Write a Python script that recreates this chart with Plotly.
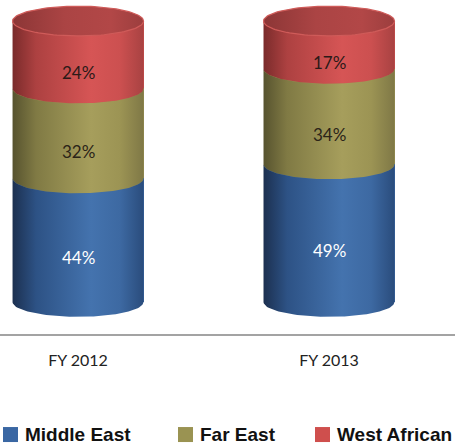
import numpy as np
import plotly.graph_objects as go

# Share of shipments by region (percent of total)
years = ["FY 2012", "FY 2013"]
regions = ["Middle East", "Far East", "West African"]
middle_east = [44, 49]
far_east = [32, 34]
west_african = [24, 17]
series_values = [middle_east, far_east, west_african]

# Flat colours (legend) and horizontal shading ramps for the cylinder bodies
flat_colors = ["#3a67a3", "#9a9352", "#cf4f4d"]
body_ramps = [
    [[0.0, "#1c3050"], [0.18, "#2d5285"], [0.6, "#4473ae"], [0.82, "#3d69a2"], [1.0, "#2a4c7c"]],
    [[0.0, "#57532f"], [0.18, "#807a44"], [0.6, "#a69e5c"], [0.82, "#9c9454"], [1.0, "#7f7846"]],
    [[0.0, "#7a2b2b"], [0.18, "#ad4141"], [0.6, "#d65555"], [0.82, "#cc5050"], [1.0, "#a84242"]],
]
cap_ramp = [[0.0, "#8c3636"], [0.4, "#ab4444"], [0.75, "#b24747"], [1.0, "#9c3e3e"]]
label_colors = ["#ffffff", "#2b2418", "#2b1a18"]

bar_width = 0.522
half_w = bar_width / 2
depth = 5.3          # half-height of the elliptical cross-section, in data units
n_pts = 60

fig = go.Figure()

# Flat stacked bars form the base layer under the shaded cylinders
for name, vals, col in zip(regions, series_values, flat_colors):
    fig.add_trace(go.Bar(
        x=list(range(len(years))), y=vals, name=name, width=bar_width,
        marker=dict(color=col, line=dict(width=0)), hoverinfo="skip",
        showlegend=False,
    ))

theta = np.linspace(np.pi, 2 * np.pi, n_pts)

def lower_arc(cx, level):
    xs = cx + half_w * np.cos(theta)
    ys = level + depth * np.sin(theta)
    return xs, ys

annotations = []
for i, year in enumerate(years):
    bottom = 0.0
    for s, (vals, ramp) in enumerate(zip(series_values, body_ramps)):
        top = bottom + vals[i]
        # shaded cylinder body: upper front arc, then lower front arc back
        tx, ty = lower_arc(i, top)
        bx, by = lower_arc(i, bottom)
        px = np.concatenate([tx, bx[::-1], [tx[0]]])
        py = np.concatenate([ty, by[::-1], [ty[0]]])
        fig.add_trace(go.Scatter(
            x=px, y=py, mode="lines", line=dict(width=0), fill="toself",
            fillgradient=dict(type="horizontal", colorscale=ramp),
            hoverinfo="skip", showlegend=False,
        ))
        annotations.append(dict(
            x=i, y=(bottom + top) / 2 - depth - 1, text=f"{vals[i]}%",
            showarrow=False, xref="x", yref="y",
            font=dict(family="Lato", size=17, color=label_colors[s]),
        ))
        bottom = top
    # top cap ellipse
    t = np.linspace(0, 2 * np.pi, 2 * n_pts)
    fig.add_trace(go.Scatter(
        x=i + half_w * np.cos(t), y=bottom + depth * np.sin(t),
        mode="lines", line=dict(width=1.2, color="#cf5b59"), fill="toself",
        fillgradient=dict(type="horizontal", colorscale=cap_ramp),
        hoverinfo="skip", showlegend=False,
    ))

# Legend row under the axis: colour square + bold series name
legend_x = [3, 178, 315]        # left edge of each entry, px
legend_y = -0.301               # row centre, in paper units
shapes = []
for name, col, lx in zip(regions, flat_colors, legend_x):
    shapes.append(dict(
        type="rect", xref="paper", yref="paper",
        x0=lx / 455, x1=(lx + 15) / 455,
        y0=legend_y - 7.5 / 334, y1=legend_y + 7.5 / 334,
        fillcolor=col, line=dict(width=0),
    ))
    annotations.append(dict(
        x=(lx + 20) / 455, y=legend_y, xref="paper", yref="paper",
        xanchor="left", yanchor="middle", text=f"<b>{name}</b>", showarrow=False,
        font=dict(family="Liberation Sans", size=19, color="#111111"),
    ))

fig.update_layout(
    width=455, height=446,
    margin=dict(l=0, r=0, t=0, b=112, autoexpand=False),
    paper_bgcolor="white", plot_bgcolor="white",
    barmode="stack", bargap=0,
    annotations=annotations, shapes=shapes,
    showlegend=False,
    xaxis=dict(
        range=[-0.311, 1.502], tickvals=list(range(len(years))), ticktext=years,
        showgrid=False, zeroline=False, showline=True, linecolor="#a3a3a3",
        linewidth=2, ticks="", ticklabelstandoff=11,
        tickfont=dict(family="Lato", size=16, color="#222222"),
    ),
    yaxis=dict(range=[-11.4, 107.5], visible=False),
)

fig.write_html("out.html")
